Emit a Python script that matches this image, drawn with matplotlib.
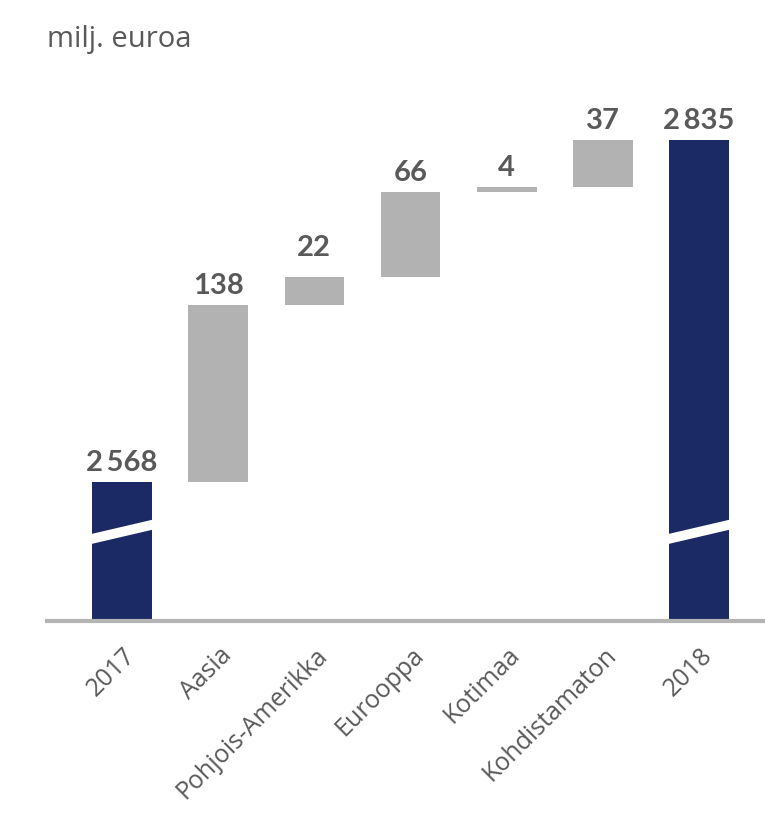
import matplotlib
matplotlib.use("Agg")
import matplotlib.pyplot as plt
from matplotlib.patches import Polygon

plt.rcParams['font.family'] = ['Lato', 'DejaVu Sans']
LABEL_FAMILY = ['Open Sans', 'DejaVu Sans']

# Waterfall data (milj. euroa)
categories = ["2017", "Aasia", "Pohjois-Amerikka", "Eurooppa", "Kotimaa",
              "Kohdistamaton", "2018"]
start_value = 2568
changes = [138, 22, 66, 4, 37]
end_value = 2835
value_labels = ["2\u2009568", "138", "22", "66", "4", "37", "2\u2009835"]
label_lift = [8.5, 8, 15, 8, 8, 8, 8]   # points above bar top

AXIS_FLOOR = 2460   # broken value axis starts here
NAVY = "#1b2a64"
GREY_BAR = "#b2b2b2"
AXIS_GREY = "#b4b4b4"
TEXT = "#595959"

fig = plt.figure(figsize=(7.65, 8.13), dpi=100)
W, H = 765, 813
left_px, right_px, bottom_px, top_px = 47, 765, 621, 100
ax = fig.add_axes([left_px / W, 1 - bottom_px / H,
                   (right_px - left_px) / W, (bottom_px - top_px) / H])

bar_w = 0.62
x = list(range(len(categories)))

# Totals
ax.bar(x[0], start_value - AXIS_FLOOR, bottom=AXIS_FLOOR, width=bar_w,
       color=NAVY, zorder=2)
ax.bar(x[-1], end_value - AXIS_FLOOR, bottom=AXIS_FLOOR, width=bar_w,
       color=NAVY, zorder=2)

# Floating increments
tops = [start_value]
running = start_value
for i, c in enumerate(changes, start=1):
    ax.bar(x[i], c, bottom=running, width=bar_w, color=GREY_BAR, zorder=2)
    running += c
    tops.append(running)
tops.append(end_value)

# Value labels above each bar
for xi, top, lab, lift in zip(x, tops, value_labels, label_lift):
    ax.annotate(lab, (xi, top), xytext=(0, lift), textcoords="offset points",
                ha="center", va="baseline", fontsize=21, fontweight="bold",
                color=TEXT)

# Axis-break marks on the total bars
for xi in (x[0], x[-1]):
    x0, x1 = xi - bar_w / 2 - 0.01, xi + bar_w / 2 + 0.01
    band = Polygon([(x0, 2520.0), (x1, 2531.2), (x1, 2539.0), (x0, 2527.8)],
                   closed=True, facecolor="white", edgecolor="none", zorder=3)
    ax.add_patch(band)

ax.set_xlim(-0.78, 6.686)
ax.set_ylim(AXIS_FLOOR, AXIS_FLOOR + (bottom_px - top_px) / 1.283)

for s in ("top", "right", "left"):
    ax.spines[s].set_visible(False)
ax.spines["bottom"].set_color(AXIS_GREY)
ax.spines["bottom"].set_linewidth(3)
ax.set_yticks([])
ax.set_xticks([])

# Rotated category labels, right end just under each bar
for xi, cat in zip(x, categories):
    ax.annotate(cat, (xi, AXIS_FLOOR), xytext=(7, -22),
                textcoords="offset points", ha="right", va="center",
                rotation=45, rotation_mode="anchor", fontsize=18,
                family=LABEL_FAMILY, color=TEXT, annotation_clip=False)

fig.text(47 / W, 1 - 47 / H, "milj. euroa", fontsize=21, color=TEXT,
         family=LABEL_FAMILY, ha="left", va="baseline")

fig.savefig("out.png", dpi=100)
